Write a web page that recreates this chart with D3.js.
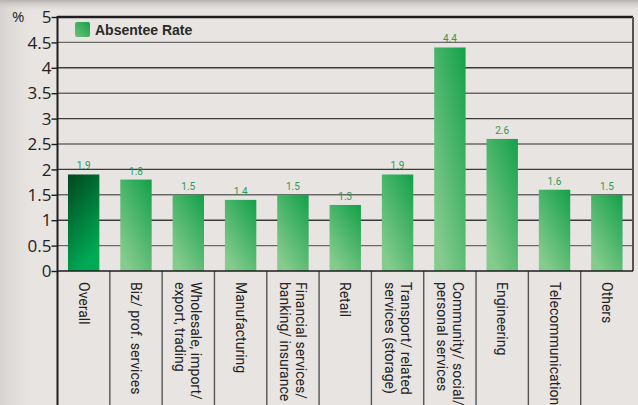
<!DOCTYPE html>
<html>
<head>
<meta charset="utf-8">
<script src="https://cdn.jsdelivr.net/npm/d3@7"></script>
<style>
  body { margin: 0; background: #e8e4e1; }
  svg { display: block; }
</style>
</head>
<body>
<svg width="638" height="405"></svg>
<script>
var categories = [
    ["Overall"],
    ["Biz/ prof. services"],
    ["Wholesale, import/", "export, trading"],
    ["Manufacturing"],
    ["Financial services/", "banking/ insurance"],
    ["Retail"],
    ["Transport/ related", "services (storage)"],
    ["Community/ social/", "personal services"],
    ["Engineering"],
    ["Telecommunications"],
    ["Others"]
];
var rates = [1.9, 1.8, 1.5, 1.4, 1.5, 1.3, 1.9, 4.4, 2.6, 1.6, 1.5];
var yTicks = [0, 0.5, 1, 1.5, 2, 2.5, 3, 3.5, 4, 4.5, 5];

var W = 638, H = 405;
var margin = {top: 17, right: 5, bottom: 134, left: 57.5};
var width = W - margin.left - margin.right;
var height = H - margin.top - margin.bottom;

var svg = d3.select("svg");
var defs = svg.append("defs");

// background shading at top and left
var topG = defs.append("linearGradient").attr("id", "topShade").attr("x1", 0).attr("y1", 0).attr("x2", 0).attr("y2", 1);
topG.append("stop").attr("offset", "0%").attr("stop-color", "#b4b1af");
topG.append("stop").attr("offset", "100%").attr("stop-color", "#e8e4e1").attr("stop-opacity", 0);
var leftG = defs.append("linearGradient").attr("id", "leftShade").attr("x1", 0).attr("y1", 0).attr("x2", 1).attr("y2", 0);
leftG.append("stop").attr("offset", "0%").attr("stop-color", "#d6d2cf");
leftG.append("stop").attr("offset", "100%").attr("stop-color", "#e8e4e1").attr("stop-opacity", 0);

var darkG = defs.append("linearGradient").attr("id", "darkBar").attr("x1", 0).attr("y1", 0).attr("x2", 0.4).attr("y2", 1);
darkG.append("stop").attr("offset", "0%").attr("stop-color", "#00471c");
darkG.append("stop").attr("offset", "100%").attr("stop-color", "#00aa55");
var lightG = defs.append("linearGradient").attr("id", "lightBar").attr("x1", 1).attr("y1", 0).attr("x2", 0.3).attr("y2", 1);
lightG.append("stop").attr("offset", "0%").attr("stop-color", "#13a049");
lightG.append("stop").attr("offset", "100%").attr("stop-color", "#85cb8d");
var legG = defs.append("linearGradient").attr("id", "legBar").attr("x1", 1).attr("y1", 0).attr("x2", 0).attr("y2", 1);
legG.append("stop").attr("offset", "0%").attr("stop-color", "#1a9e4a");
legG.append("stop").attr("offset", "100%").attr("stop-color", "#6cc27c");

svg.append("rect").attr("width", W).attr("height", H).attr("fill", "#e8e4e1");
svg.append("rect").attr("width", 40).attr("height", H).attr("fill", "url(#leftShade)");
svg.append("rect").attr("width", W).attr("height", 12).attr("fill", "url(#topShade)");

var x = d3.scaleBand().domain(d3.range(categories.length)).range([0, width]).paddingInner(0.4).paddingOuter(0.2);
var xb = d3.scaleBand().domain(d3.range(categories.length)).range([0, width]);
var y = d3.scaleLinear().domain([0, 5]).range([height, 0]);

var g = svg.append("g").attr("transform", "translate(" + margin.left + "," + margin.top + ")");

// gridlines
g.selectAll(".grid").data(yTicks.filter(function(d){ return d > 0; }))
  .enter().append("line")
    .attr("x1", 0).attr("x2", width)
    .attr("y1", function(d){ return y(d); }).attr("y2", function(d){ return y(d); })
    .attr("stroke", function(d, i){ return d === 5 ? "#1e1e1e" : (i % 2 ? "#3a3a3a" : "#6a6868"); })
    .attr("stroke-width", function(d){ return d === 5 ? 2.4 : 1.4; });

// bars
g.selectAll(".bar").data(rates).enter().append("rect")
    .attr("x", function(d, i){ return x(i); })
    .attr("y", function(d){ return y(d); })
    .attr("width", x.bandwidth())
    .attr("height", function(d){ return height - y(d); })
    .attr("fill", function(d, i){ return i === 0 ? "url(#darkBar)" : "url(#lightBar)"; });

g.selectAll(".val").data(rates).enter().append("text")
    .attr("x", function(d, i){ return x(i) + x.bandwidth() / 2; })
    .attr("y", function(d){ return y(d) - 5; })
    .attr("text-anchor", "middle")
    .attr("font-family", "Liberation Sans Narrow, Roboto, sans-serif")
    .attr("font-size", 10)
    .attr("fill", "#2e9a55")
    .text(function(d){ return d.toFixed(1); });

// right border
g.append("line").attr("x1", width).attr("x2", width).attr("y1", 0).attr("y2", height)
    .attr("stroke", "#555").attr("stroke-width", 2);

// category dividers below axis
g.selectAll(".div").data(d3.range(1, categories.length)).enter().append("line")
    .attr("x1", function(d){ return xb(d); }).attr("x2", function(d){ return xb(d); })
    .attr("y1", height).attr("y2", H)
    .attr("stroke", "#555").attr("stroke-width", 1.4);

// x axis line
g.append("line").attr("x1", 0).attr("x2", width).attr("y1", height).attr("y2", height)
    .attr("stroke", "#1e1e1e").attr("stroke-width", 1.6);

// y axis
var yAxis = g.append("g").call(d3.axisLeft(y).tickValues(yTicks).tickSize(6).tickSizeOuter(0)
    .tickFormat(function(d){ return d; }));
yAxis.select(".domain").remove();
yAxis.attr("font-size", null).attr("font-family", null);
yAxis.selectAll("line").attr("stroke", "#1e1e1e").attr("stroke-width", 1.4);
yAxis.selectAll("text").style("font-family", "Open Sans, sans-serif").style("font-size", "17px")
    .attr("fill", "#222").attr("x", -6).attr("dy", "0.34em");
g.append("line").attr("x1", 0).attr("x2", 0).attr("y1", -1).attr("y2", H)
    .attr("stroke", "#1e1e1e").attr("stroke-width", 2);

svg.append("text").attr("x", 12).attr("y", 22)
    .style("font-family", "Open Sans, sans-serif").style("font-size", "15px").attr("fill", "#222").text("%");

// category labels, rotated
var labels = g.selectAll(".cat").data(categories).enter().append("text")
    .attr("transform", function(d, i){
        return "translate(" + (xb(i) + xb.bandwidth() / 2) + "," + (height + 11) + ") rotate(90)";
    })
    .attr("font-family", "Liberation Sans Narrow, Roboto, sans-serif")
    .attr("font-size", 14)
    .attr("fill", "#222");
labels.selectAll("tspan").data(function(d){ return d; }).enter().append("tspan")
    .attr("x", 0)
    .attr("y", function(t, j, nodes){ var n = nodes.length; return (j - (n - 1) / 2) * 16; })
    .attr("dy", "0.35em")
    .text(function(t){ return t; });

// legend
svg.append("rect").attr("x", 75).attr("y", 22).attr("width", 15).attr("height", 15).attr("rx", 2)
    .attr("fill", "url(#legBar)");
svg.append("text").attr("x", 95).attr("y", 35)
    .attr("font-family", "Liberation Sans, sans-serif").attr("font-weight", "bold")
    .attr("font-size", 14).attr("fill", "#2a2a2a").text("Absentee Rate");
</script>
</body>
</html>
